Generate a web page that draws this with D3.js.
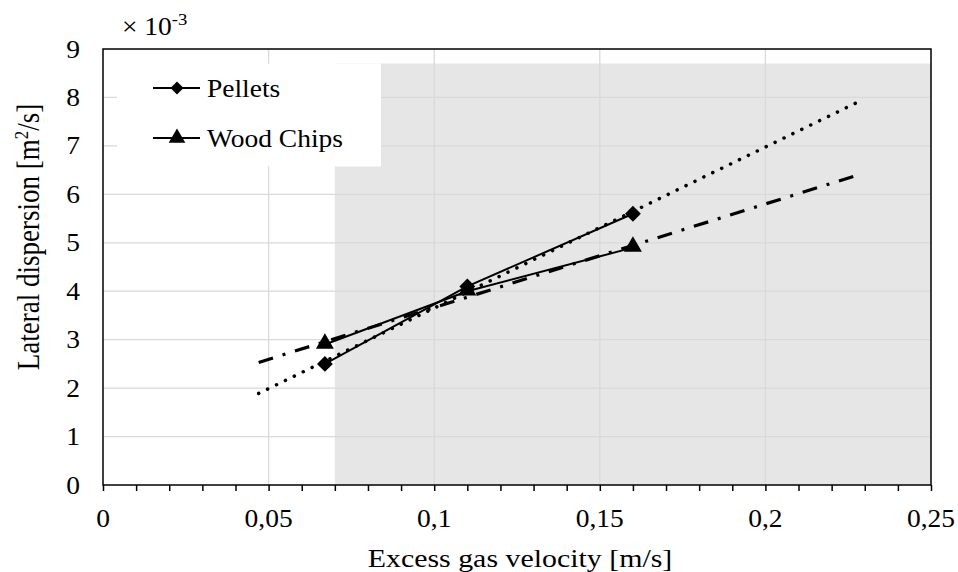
<!DOCTYPE html>
<html>
<head>
<meta charset="utf-8">
<script src="https://cdn.jsdelivr.net/npm/d3@7"></script>
<style>
  html, body { margin: 0; padding: 0; background: #fff; }
</style>
</head>
<body>
<svg id="chart" width="958" height="572"></svg>
<script>
// ---- data ----
const seriesNames = ["Pellets", "Wood Chips"];
const pelletsX = [0.067, 0.11, 0.16];
const pelletsY = [2.5, 4.1, 5.6];
const chipsX = [0.067, 0.11, 0.16];
const chipsY = [2.9, 4.0, 4.9];
// trend line endpoints
const pelletsTrendX = [0.047, 0.229];
const pelletsTrendY = [1.89, 7.94];
const chipsTrendX = [0.047, 0.228];
const chipsTrendY = [2.53, 6.40];
// shaded band
const shadeX = [0.07, 0.25];
const shadeY = [0, 8.7];
const xTickValues = [0, 0.05, 0.1, 0.15, 0.2, 0.25];
const xTickLabels = ["0", "0,05", "0,1", "0,15", "0,2", "0,25"];
const yTickValues = [0, 1, 2, 3, 4, 5, 6, 7, 8, 9];
const yTickLabels = ["0", "1", "2", "3", "4", "5", "6", "7", "8", "9"];
const xTitle = "Excess gas velocity [m/s]";
const yTitle = "Lateral dispersion [m²/s]";

// ---- layout ----
const FONT = "'Liberation Serif', 'Times New Roman', Times, 'DejaVu Serif', serif";
const svg = d3.select("#chart").attr("font-family", FONT);
const L = 103, R = 931, T = 49, B = 485;
const x = d3.scaleLinear().domain([0, 0.25]).range([L, R]);
const y = d3.scaleLinear().domain([0, 9]).range([B, T]);
const SX = 1.1; // horizontal stretch of glyphs

// shaded region
svg.append("rect")
  .attr("x", x(shadeX[0])).attr("y", y(shadeY[1]))
  .attr("width", x(shadeX[1]) - x(shadeX[0]))
  .attr("height", y(shadeY[0]) - y(shadeY[1]))
  .attr("fill", "#e6e6e6");

// grid
const grid = svg.append("g").attr("stroke", "#d9d9d9").attr("stroke-width", 1.3);
[0.05, 0.1, 0.15, 0.2].forEach(v => {
  grid.append("line").attr("x1", x(v)).attr("x2", x(v)).attr("y1", T).attr("y2", B);
});
[1, 2, 3, 4, 5, 6, 7, 8].forEach(v => {
  grid.append("line").attr("x1", L).attr("x2", R).attr("y1", y(v)).attr("y2", y(v));
});

// legend box (white, covers grid and shading)
svg.append("rect").attr("x", 117).attr("y", y(shadeY[1])).attr("width", 264).attr("height", 103).attr("fill", "#fff");

// x axis minor ticks + labels
const minorTicks = d3.range(0, 26).map(i => i / 100);
const xAxis = d3.axisBottom(x).tickValues(minorTicks).tickSize(6).tickFormat(() => "");
const gx = svg.append("g").attr("transform", `translate(0,${B})`).call(xAxis);
gx.attr("font-family", FONT);
gx.select(".domain").remove();
gx.selectAll(".tick line").attr("stroke", "#000").attr("stroke-width", 1.5);

const xLab = svg.append("g");
xTickValues.forEach((v, i) => {
  xLab.append("text")
    .attr("transform", `translate(${x(v)},527) scale(${SX},1)`)
    .attr("text-anchor", "middle").attr("font-size", 25).attr("font-family", FONT)
    .text(xTickLabels[i]);
});
const yLab = svg.append("g");
yTickValues.forEach((v, i) => {
  yLab.append("text")
    .attr("transform", `translate(80,${y(v) + 8.5}) scale(${SX},1)`)
    .attr("text-anchor", "end").attr("font-size", 25).attr("font-family", FONT)
    .text(yTickLabels[i]);
});

// frame
svg.append("rect").attr("x", L).attr("y", T).attr("width", R - L).attr("height", B - T)
  .attr("fill", "none").attr("stroke", "#000").attr("stroke-width", 1.5);

// multiplier
const mult = svg.append("text").attr("transform", `translate(122,35) scale(${SX},1)`)
  .attr("font-size", 25).attr("font-family", FONT);
mult.append("tspan").text("× 10");
mult.append("tspan").attr("font-size", 17).attr("dy", -10).text("-3");

// titles
svg.append("text")
  .attr("transform", `translate(520,567) scale(1.15,1)`)
  .attr("text-anchor", "middle").attr("font-size", 26).attr("font-family", FONT)
  .text(xTitle);
const yt = svg.append("text")
  .attr("transform", `translate(39,237) scale(1.15,1) rotate(-90)`)
  .attr("text-anchor", "middle").attr("font-size", 27).attr("font-family", FONT);
yt.append("tspan").text("Lateral dispersion [m");
yt.append("tspan").attr("font-size", 17).attr("dy", -10).text("2");
yt.append("tspan").attr("dy", 10).text("/s]");

// trend lines
const line = d3.line().x(d => x(d[0])).y(d => y(d[1]));
svg.append("path")
  .attr("d", line(d3.zip(pelletsTrendX, pelletsTrendY)))
  .attr("fill", "none").attr("stroke", "#000").attr("stroke-width", 3.5)
  .attr("stroke-linecap", "round").attr("stroke-dasharray", "0.1 9.8");
svg.append("path")
  .attr("d", line(d3.zip(chipsTrendX, chipsTrendY)))
  .attr("fill", "none").attr("stroke", "#000").attr("stroke-width", 3.2)
  .attr("stroke-dasharray", "15 10 3 10");

// data lines
const diamond = d3.symbol().type(d3.symbolDiamond2).size(160);
const tri = d3.symbol().type(d3.symbolTriangle).size(140);
svg.append("path").attr("d", line(d3.zip(pelletsX, pelletsY)))
  .attr("fill", "none").attr("stroke", "#000").attr("stroke-width", 2);
svg.append("path").attr("d", line(d3.zip(chipsX, chipsY)))
  .attr("fill", "none").attr("stroke", "#000").attr("stroke-width", 2);

svg.append("g").selectAll("path").data(d3.zip(pelletsX, pelletsY)).join("path")
  .attr("d", diamond).attr("transform", d => `translate(${x(d[0])},${y(d[1])})`).attr("fill", "#000");
svg.append("g").selectAll("path").data(d3.zip(chipsX, chipsY)).join("path")
  .attr("d", tri).attr("transform", d => `translate(${x(d[0])},${y(d[1]) - 1})`).attr("fill", "#000");

// legend
const legendY = [88, 138];
const legSyms = [d3.symbol().type(d3.symbolDiamond2).size(110), d3.symbol().type(d3.symbolTriangle).size(120)];
seriesNames.forEach((name, i) => {
  svg.append("line").attr("x1", 153).attr("x2", 200).attr("y1", legendY[i]).attr("y2", legendY[i])
    .attr("stroke", "#000").attr("stroke-width", 2);
  svg.append("path").attr("d", legSyms[i]).attr("transform", `translate(177,${legendY[i]})`).attr("fill", "#000");
  svg.append("text").attr("transform", `translate(207,${legendY[i] + 9}) scale(${SX},1)`)
    .attr("font-size", 25).attr("font-family", FONT).text(name);
});
</script>
</body>
</html>
